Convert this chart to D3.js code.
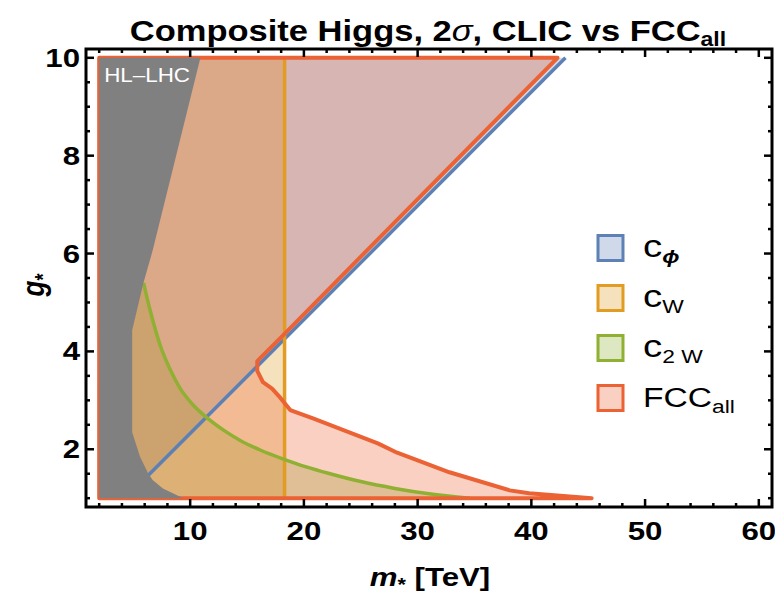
<!DOCTYPE html>
<html>
<head>
<meta charset="utf-8">
<script src="https://cdn.jsdelivr.net/npm/d3@7"></script>
<style>
  body { margin: 0; background: #fff; }
  svg { display: block; }
  text { font-family: "Liberation Sans", Arial, sans-serif; }
</style>
</head>
<body>
<svg id="chart" width="775" height="595"></svg>
<script>
// ---- axes ----
const xDomain = [0.84, 61.16];
const yDomain = [0.82, 10.18];
const xTickValues = [10, 20, 30, 40, 50, 60];
const xTickLabels = ["10", "20", "30", "40", "50", "60"];
const yTickValues = [2, 4, 6, 8, 10];
const yTickLabels = ["2", "4", "6", "8", "10"];

// ---- excluded regions in the (m*, g*) plane, m* in TeV ----
// HL-LHC
const hlM = [2, 10.9, 6.7, 5.9, 4.9, 4.9, 5.6, 6.3, 6.7, 7.6, 9.4, 2];
const hlG = [10, 10, 6.06, 5.41, 4.43, 2.35, 1.84, 1.51, 1.37, 1.2, 1.0, 1.0];
// c_phi : boundary line
const cPhiLineM = [4.3, 43];
const cPhiLineG = [1, 10];
// c_W : vertical boundary
const cWLineM = [18.3, 18.3];
const cWLineG = [1, 10];
// c_2W : boundary curve
const c2wM = [5.9, 6.5, 7.4, 8.2, 9.1, 10.2, 11.6, 13, 14.4, 16.2, 18.2, 20.2, 22.3, 25, 28, 31, 34.6];
const c2wG = [5.4, 4.82, 4.1, 3.65, 3.25, 2.92, 2.62, 2.38, 2.18, 1.98, 1.8, 1.64, 1.5, 1.34, 1.2, 1.09, 1.0];
// FCC_all : closed outline
const fccM = [2, 42.3, 18.3, 15.9, 15.9, 16.4, 17.2, 17.9, 18.8, 20.8, 26.5, 28.2, 32.8, 38.1, 39.8, 45.3, 2];
const fccG = [10, 10, 4.36, 3.8, 3.6, 3.37, 3.24, 3.06, 2.8, 2.63, 2.12, 1.93, 1.53, 1.16, 1.1, 1.0, 1.0];
const mLeft = 2, gBottom = 1, gTop = 10;

const legendNames = [["c", "\u03d5"], ["c", "W"], ["c", "2 W"], ["FCC", "all"]];
const colors = { phi: "#5e81b5", w: "#e19c24", w2: "#8fb032", fcc: "#eb6235", hl: "#808080" };
const fillOpacity = 0.3;
const textStretch = 1.2;   // glyphs are drawn slightly wide

const svg = d3.select("#chart");
const x = d3.scaleLinear().domain(xDomain).range([86, 772]);
const y = d3.scaleLinear().domain(yDomain).range([507, 49]);

const zip = (ms, gs) => ms.map((m, i) => [m, gs[i]]);
const line = d3.line().x(d => x(d[0])).y(d => y(d[1]));
const smooth = d3.line().x(d => x(d[0])).y(d => y(d[1])).curve(d3.curveMonotoneX);

// text placed at (px, py) and stretched horizontally
const wideText = (parent, px, py, sx = textStretch) =>
  parent.append("text").attr("transform", `translate(${px},${py}) scale(${sx},1)`);

svg.append("clipPath").attr("id", "plotclip").append("rect")
  .attr("x", x(xDomain[0])).attr("y", y(yDomain[1]))
  .attr("width", x(xDomain[1]) - x(xDomain[0])).attr("height", y(yDomain[0]) - y(yDomain[1]));

const plot = svg.append("g").attr("clip-path", "url(#plotclip)");

// region fills
const phiPoly = [[mLeft, gBottom], [cPhiLineM[0], cPhiLineG[0]], [cPhiLineM[1], cPhiLineG[1]], [mLeft, gTop]];
const wPoly = [[mLeft, gBottom], [cWLineM[0], cWLineG[0]], [cWLineM[1], cWLineG[1]], [mLeft, gTop]];
const c2wPts = zip(c2wM, c2wG);
const fccPts = zip(fccM, fccG);

plot.append("path").attr("d", line(phiPoly) + "Z").attr("fill", colors.phi).attr("fill-opacity", fillOpacity);
plot.append("path").attr("d", line(wPoly) + "Z").attr("fill", colors.w).attr("fill-opacity", fillOpacity);
plot.append("path")
  .attr("d", `M${x(mLeft)},${y(c2wG[0])}` + smooth(c2wPts).replace(/^M/, "L") + `L${x(mLeft)},${y(gBottom)}Z`)
  .attr("fill", colors.w2).attr("fill-opacity", fillOpacity);
plot.append("path").attr("d", line(fccPts) + "Z").attr("fill", colors.fcc).attr("fill-opacity", fillOpacity);

// boundaries
plot.append("path").attr("d", line(zip(cPhiLineM, cPhiLineG))).attr("fill", "none")
  .attr("stroke", colors.phi).attr("stroke-width", 3.5);
plot.append("path").attr("d", line(zip(cWLineM, cWLineG))).attr("fill", "none")
  .attr("stroke", colors.w).attr("stroke-width", 3.5);
plot.append("path").attr("d", smooth(c2wPts)).attr("fill", "none")
  .attr("stroke", colors.w2).attr("stroke-width", 3.5);
plot.append("path").attr("d", line(fccPts) + "Z").attr("fill", "none")
  .attr("stroke", colors.fcc).attr("stroke-width", 4).attr("stroke-linejoin", "round");

// HL-LHC region on top
plot.append("path").attr("d", line(zip(hlM, hlG)) + "Z").attr("fill", colors.hl);
wideText(plot, x(2) + 5, 82, 1.12).attr("fill", "#fff").attr("font-size", 20).text("HL\u2013LHC");

// frame and ticks
const fr = svg.append("g");
const X0 = x(xDomain[0]), X1 = x(xDomain[1]), Y0 = y(yDomain[0]), Y1 = y(yDomain[1]);
fr.append("rect").attr("x", X0).attr("y", Y1).attr("width", X1 - X0).attr("height", Y0 - Y1)
  .attr("fill", "none").attr("stroke", "#000").attr("stroke-width", 3);

const xMinor = d3.range(2, 61, 2).filter(v => !xTickValues.includes(v));
const yMinor = d3.range(1, 10.01, 0.5).filter(v => !yTickValues.includes(v));
const tick = (x1, y1, x2, y2) => fr.append("line").attr("x1", x1).attr("y1", y1).attr("x2", x2).attr("y2", y2)
  .attr("stroke", "#000").attr("stroke-width", 2.5);
xTickValues.forEach(v => { tick(x(v), Y0, x(v), Y0 - 8); tick(x(v), Y1, x(v), Y1 + 8); });
xMinor.forEach(v => { tick(x(v), Y0, x(v), Y0 - 4); tick(x(v), Y1, x(v), Y1 + 4); });
yTickValues.forEach(v => { tick(X0, y(v), X0 + 8, y(v)); tick(X1, y(v), X1 - 8, y(v)); });
yMinor.forEach(v => { tick(X0, y(v), X0 + 4, y(v)); tick(X1, y(v), X1 - 4, y(v)); });

const axisLabels = svg.append("g").attr("font-size", 26).attr("font-weight", "bold");
xTickValues.forEach((v, i) => {
  wideText(axisLabels, x(v), 540).attr("text-anchor", "middle").text(xTickLabels[i]);
});
yTickValues.forEach((v, i) => {
  wideText(axisLabels, 80, y(v) + 9).attr("text-anchor", "end").text(yTickLabels[i]);
});

// axis titles
const xt = wideText(svg, 430, 586).attr("text-anchor", "middle")
  .attr("font-size", 26).attr("font-weight", "bold");
xt.append("tspan").attr("font-style", "italic").text("m");
xt.append("tspan").attr("font-size", 18).attr("dy", 5).text("*");
xt.append("tspan").attr("dy", -5).text(" [TeV]");

const yt = svg.append("text").attr("transform", `translate(44,285) rotate(-90) scale(1,${textStretch})`)
  .attr("text-anchor", "middle").attr("font-size", 26).attr("font-weight", "bold");
yt.append("tspan").attr("font-style", "italic").text("g");
yt.append("tspan").attr("font-size", 18).attr("dy", 5).text("*");

// title
const tt = wideText(svg, 428, 41, 1.15).attr("text-anchor", "middle")
  .attr("font-size", 30).attr("font-weight", "bold");
tt.append("tspan").text("Composite Higgs, 2");
tt.append("tspan").attr("font-style", "italic").attr("font-weight", "normal").text("\u03c3");
tt.append("tspan").text(", CLIC vs FCC");
tt.append("tspan").attr("font-size", 20).attr("dy", 5).text("all");

// legend
const legKeys = ["phi", "w", "w2", "fcc"];
const leg = svg.append("g");
legKeys.forEach((k, i) => {
  const cy = 248 + i * 50;
  leg.append("rect").attr("x", 598).attr("y", cy - 12.5).attr("width", 25).attr("height", 25)
    .attr("fill", d3.interpolateRgb("#fff", colors[k])(fillOpacity))
    .attr("stroke", colors[k]).attr("stroke-width", 3);
  const t = wideText(leg, 643, cy + 9).attr("font-size", 28);
  const main = t.append("tspan").text(legendNames[i][0]);
  if (k !== "fcc") main.attr("font-size", 32);
  const sub = t.append("tspan").attr("font-size", 19).attr("dy", 6).text(legendNames[i][1]);
  if (k === "phi") sub.attr("font-weight", "bold").attr("font-style", "italic");
});
</script>
</body>
</html>
